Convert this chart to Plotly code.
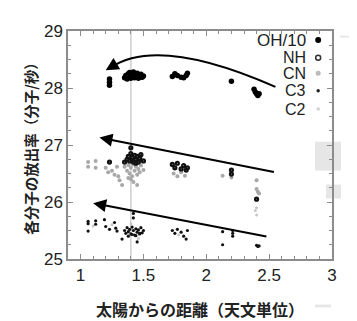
import plotly.graph_objects as go

# ---------------- data ----------------
oh_x = [1.23, 1.23, 1.23,
        1.35, 1.36, 1.37, 1.38, 1.39, 1.40, 1.41, 1.42, 1.43, 1.44, 1.45, 1.46, 1.47, 1.48, 1.49, 1.50,
        1.37, 1.40, 1.43, 1.46, 1.49,
        1.73, 1.75, 1.77, 1.80, 1.82, 1.84, 1.85,
        2.20,
        2.38, 2.39, 2.40, 2.41, 2.42]
oh_y = [28.05, 28.10, 28.16,
        28.18, 28.22, 28.20, 28.25, 28.27, 28.24, 28.21, 28.28, 28.23, 28.20, 28.26, 28.22, 28.19, 28.24, 28.20, 28.21,
        28.16, 28.17, 28.18, 28.17, 28.19,
        28.20, 28.25, 28.22, 28.19, 28.18, 28.22, 28.26,
        28.12,
        27.98, 27.93, 27.90, 27.87, 27.90]

nh_x = [1.23, 1.35, 1.37, 1.38, 1.39, 1.40, 1.41, 1.42, 1.43, 1.44, 1.45, 1.46, 1.47, 1.48, 1.50, 1.40, 1.44,
        1.73, 1.75, 1.77, 1.80, 1.82, 1.84, 1.85, 2.20, 2.20, 2.40]
nh_y = [26.70, 26.70, 26.75, 26.80, 26.72, 26.85, 26.78, 26.70, 26.82, 26.74, 26.80, 26.70, 26.76, 26.83, 26.72, 26.95, 26.68,
        26.66, 26.60, 26.68, 26.58, 26.64, 26.56, 26.60, 26.56, 26.49, 26.05]

cn_x = [1.06, 1.06, 1.12, 1.12, 1.20, 1.22, 1.25, 1.27, 1.29, 1.30, 1.31, 1.33,
        1.35, 1.37, 1.38, 1.39, 1.40, 1.41, 1.42, 1.43, 1.44, 1.45, 1.46, 1.47, 1.48, 1.50, 1.40, 1.42, 1.45, 1.38,
        1.74, 1.77, 1.80, 1.83, 2.13, 2.20, 2.40, 2.40, 2.41, 2.42]
cn_y = [26.70, 26.62, 26.72, 26.60, 26.60, 26.52, 26.55, 26.48, 26.62, 26.45, 26.38, 26.30,
        26.62, 26.55, 26.65, 26.50, 26.60, 26.45, 26.66, 26.55, 26.62, 26.48, 26.58, 26.52, 26.64, 26.56, 26.40, 26.35, 26.30, 26.42,
        26.50, 26.45, 26.52, 26.46, 26.46, 26.43, 26.38, 26.23, 26.18, 26.15]

c3_x = [1.06, 1.06, 1.06, 1.12, 1.12, 1.19, 1.20, 1.23, 1.27, 1.28, 1.29,
        1.35, 1.36, 1.37, 1.38, 1.39, 1.40, 1.41, 1.42, 1.43, 1.44, 1.45, 1.46, 1.47, 1.48, 1.49, 1.50,
        1.38, 1.41, 1.44, 1.47, 1.42, 1.42, 1.33, 1.45,
        1.73, 1.75, 1.77, 1.80, 1.82, 1.84, 1.85,
        2.13, 2.13, 2.21, 2.21, 2.21, 2.40, 2.41, 2.42]
c3_y = [25.66, 25.62, 25.49, 25.67, 25.61, 25.69, 25.57, 25.52, 25.64, 25.54, 25.49,
        25.50, 25.45, 25.55, 25.48, 25.52, 25.44, 25.56, 25.50, 25.42, 25.53, 25.47, 25.51, 25.44, 25.55, 25.46, 25.50,
        25.40, 25.43, 25.41, 25.45, 25.80, 25.72, 25.35, 25.30,
        25.50, 25.45, 25.52, 25.47, 25.40, 25.35, 25.50,
        25.48, 25.25, 25.50, 25.45, 25.40, 25.24, 25.22, 25.23]

c2_x = [1.10, 1.25, 1.40, 1.46, 1.78, 2.40, 2.40, 2.39, 2.40]
c2_y = [25.58, 25.60, 25.62, 25.36, 25.42, 26.05, 25.90, 25.85, 25.77]

x_ticks = [1, 1.5, 2, 2.5, 3]
y_ticks = [25, 26, 27, 28, 29]
legend_names = ["OH/10", "NH", "CN", "C3", "C2"]
legend_y = [28.84, 28.53, 28.26, 27.95, 27.63]

# trend arrows: (tail_x, tail_y, head_x, head_y)
arrow_mid = (2.55, 26.52, 1.15, 27.13)
arrow_low = (2.49, 25.39, 1.10, 25.98)
# curved arrow: start, control, end
curve_top = (2.55, 28.02, 1.62, 28.92, 1.20, 28.31)

x_title = "太陽からの距離（天文単位）"
y_title = "各分子の放出率（分子/秒）"

# ---------------- figure ----------------
SANS = "Liberation Sans Narrow, Arial Narrow, Liberation Sans, Arial, sans-serif"
CJK = "Noto Sans CJK JP, sans-serif"

fig = go.Figure()

fig.add_trace(go.Scatter(x=c2_x, y=c2_y, mode="markers", name="C2",
                         marker=dict(size=3, color="#c8c8c8")))
fig.add_trace(go.Scatter(x=cn_x, y=cn_y, mode="markers", name="CN",
                         marker=dict(size=4, color="#a8a8a8")))
fig.add_trace(go.Scatter(x=nh_x, y=nh_y, mode="markers", name="NH",
                         marker=dict(size=3, color="#111", symbol="circle-open", line=dict(width=2.2, color="#111"))))
fig.add_trace(go.Scatter(x=c3_x, y=c3_y, mode="markers", name="C3",
                         marker=dict(size=3.2, color="#111")))
fig.add_trace(go.Scatter(x=oh_x, y=oh_y, mode="markers", name="OH/10",
                         marker=dict(size=5.5, color="#000")))

# legend symbols (manual, right side)
leg_styles = [dict(size=6, color="#000"),
              dict(size=5, color="#333", symbol="circle-open", line=dict(width=1.5, color="#333")),
              dict(size=5, color="#bbb"),
              dict(size=3.5, color="#222"),
              dict(size=3.5, color="#d0d0d0")]
for name, ly, st in zip(legend_names, legend_y, leg_styles):
    fig.add_trace(go.Scatter(x=[2.89], y=[ly], mode="markers", marker=st, showlegend=False, hoverinfo="skip"))
    fig.add_annotation(x=2.80, y=ly, xref="x", yref="y", text=name, showarrow=False,
                       xanchor="right", yanchor="middle", borderpad=0,
                       font=dict(family=SANS, size=17 if name == "OH/10" else 16, color="#222"))

# vertical reference line at perihelion
fig.add_shape(type="line", x0=1.4, x1=1.4, y0=25, y1=29, xref="x", yref="y",
              line=dict(color="#cfcfcf", width=1.5), layer="below")

# straight arrows
for (tx, ty, hx, hy) in (arrow_mid, arrow_low):
    fig.add_annotation(x=hx, y=hy, ax=tx, ay=ty, xref="x", yref="y", axref="x", ayref="y",
                       showarrow=True, arrowhead=2, arrowsize=1.3, arrowwidth=2, arrowcolor="#000", text="")

# curved arrow
sx, sy, cx, cy, ex, ey = curve_top
fig.add_shape(type="path", xref="x", yref="y",
              path=f"M {sx},{sy} Q {cx},{cy} {ex + 0.04},{ey + 0.05}",
              line=dict(color="#000", width=2))
fig.add_annotation(x=ex, y=ey, ax=ex + 0.06, ay=ey + 0.08, xref="x", yref="y", axref="x", ayref="y",
                   showarrow=True, arrowhead=2, arrowsize=1.3, arrowwidth=2, arrowcolor="#000", text="")

# scan artifacts (light gray patches outside right of plot)
def px_rect(x0, y0, x1, y1, color="#e6e6e6"):
    fig.add_shape(type="rect", xref="paper", yref="paper",
                  x0=(x0 - 60) / 264, x1=(x1 - 60) / 264,
                  y0=(268 - y1) / 245, y1=(268 - y0) / 245,
                  fillcolor=color, line=dict(width=0), layer="below")

px_rect(307, 142, 333, 173)
px_rect(318, 188, 333, 203)
px_rect(307, 317, 323, 320)
px_rect(347, 307, 357, 321)
px_rect(332, 28, 348, 30)

axis_common = dict(showline=True, linecolor="#8c8c8c", linewidth=1.5, mirror="allticks",
                   ticks="inside", ticklen=5, tickcolor="#8c8c8c", tickwidth=1,
                   showgrid=False, zeroline=False)

fig.update_xaxes(range=[0.9, 3.0], tickvals=x_ticks, ticktext=[str(v) for v in x_ticks],
                 tickfont=dict(family=SANS, size=17, color="#222"),
                 minor=dict(ticks="inside", dtick=0.1, ticklen=3, tickcolor="#8c8c8c"),
                 title=dict(text=x_title, font=dict(family=CJK, size=16, color="#222", weight="bold"), standoff=21),
                 **axis_common)
fig.update_yaxes(range=[25, 29], tickvals=y_ticks, ticktext=[str(v) for v in y_ticks],
                 tickfont=dict(family=SANS, size=17, color="#222"),
                 minor=dict(ticks="inside", dtick=0.25, ticklen=3, tickcolor="#8c8c8c"),
                 title=dict(text=y_title, font=dict(family=CJK, size=14.5, color="#222", weight="bold"), standoff=3),
                 **axis_common)

fig.update_layout(width=357, height=321, margin=dict(l=60, r=33, t=23, b=53),
                  plot_bgcolor="white", paper_bgcolor="white", showlegend=False)

fig.write_html("out.html")
